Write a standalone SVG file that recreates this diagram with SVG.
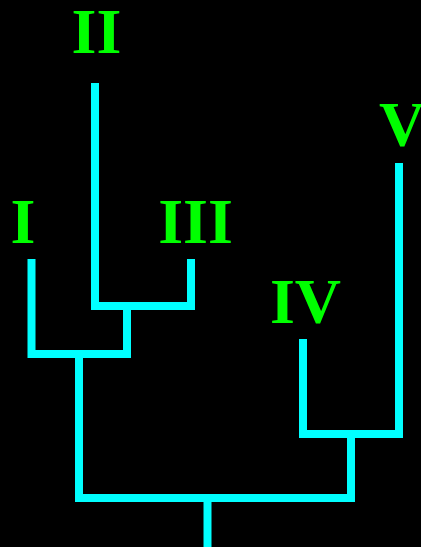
<svg xmlns="http://www.w3.org/2000/svg" width="421" height="547" viewBox="0 0 421 547">
  <style>
    .branch { fill: none; stroke: #00ffff; stroke-width: 8; stroke-linejoin: miter; stroke-linecap: butt; }
    .label { fill: #00ff00; font-family: "Liberation Serif", "Times New Roman", serif; font-weight: bold; font-size: 64px; text-anchor: middle; }
  </style>
  <rect x="0" y="0" width="421" height="547" fill="#000000"/>

  <!-- tree branches -->
  <g id="connectors">
    <path class="branch" d="M95 83 V306 H191 V259"/>
    <path class="branch" d="M31.5 259 V354 H127 V306"/>
    <path class="branch" d="M303 339 V434 H399 V163"/>
    <path class="branch" d="M79 354 V498 H351 V434"/>
    <path class="branch" d="M207.5 498 V547"/>
  </g>

  <!-- leaf labels -->
  <g id="leaf-I"><text class="label" x="23" y="243">I</text></g>
  <g id="leaf-II"><text class="label" x="96.5" y="53">II</text></g>
  <g id="leaf-III"><text class="label" x="195.5" y="243">III</text></g>
  <g id="leaf-IV"><text class="label" x="305.5" y="323">IV</text></g>
  <g id="leaf-V"><text class="label" x="402" y="146">V</text></g>
</svg>
